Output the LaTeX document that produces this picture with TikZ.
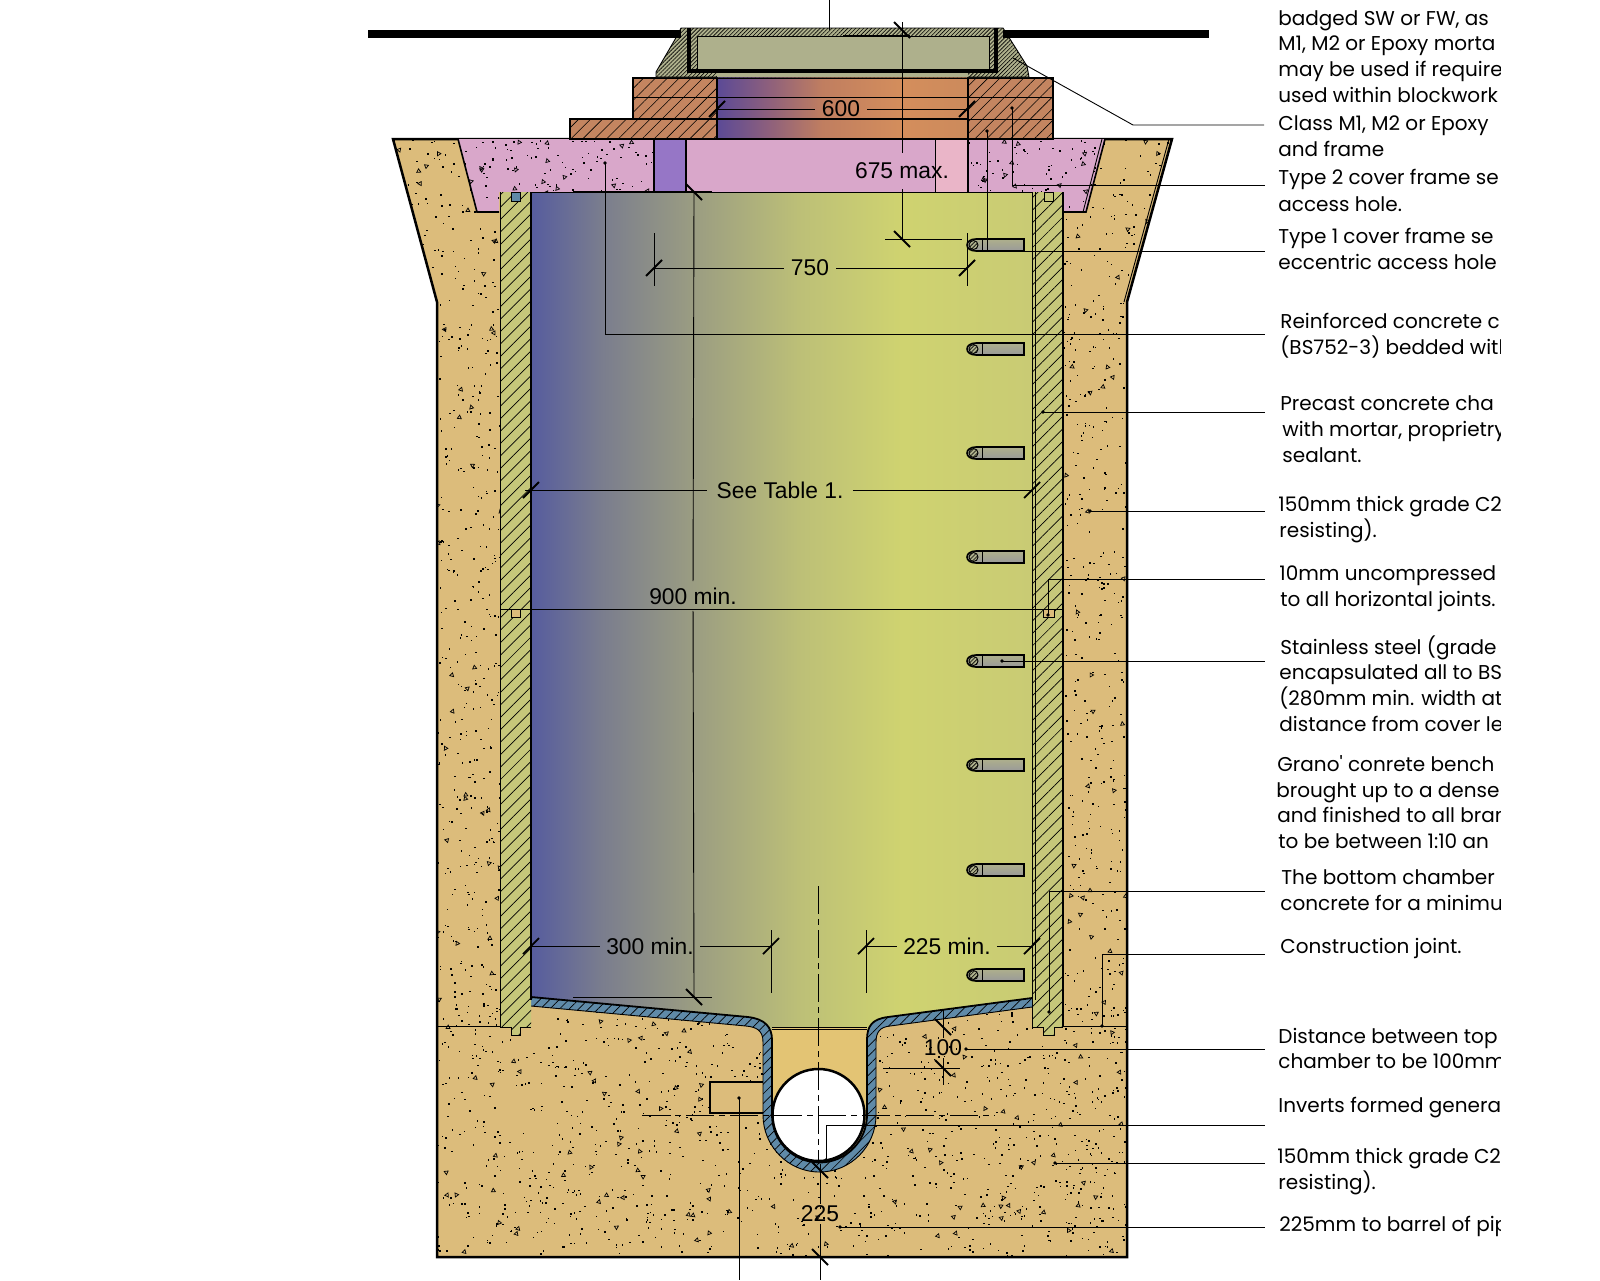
\documentclass[tikz,border=0pt]{standalone}
\usepackage{fontspec}
\setmainfont{Liberation Sans}
\newfontfamily\notefont{Poppins}
\usetikzlibrary{patterns.meta}

\definecolor{soilfill}{HTML}{DCBC7B}
\definecolor{pinkfill}{HTML}{D9A7CA}
\definecolor{pinklight}{HTML}{EAB5C8}
\definecolor{purplefill}{HTML}{9676C6}
\definecolor{brickfill}{HTML}{C48560}
\definecolor{wallfill}{HTML}{C6C77A}
\definecolor{framefill}{HTML}{AEB08C}
\definecolor{liningfill}{HTML}{5F8AA8}
\definecolor{benchfill}{HTML}{E3C474}
\definecolor{cha}{HTML}{565C9E}
\definecolor{chb}{HTML}{7A7D8E}
\definecolor{chc}{HTML}{9A9C82}
\definecolor{chd}{HTML}{BDC077}
\definecolor{che}{HTML}{CFD370}
\definecolor{chf}{HTML}{C9CB74}
\definecolor{ota}{HTML}{5B4A96}
\definecolor{otb}{HTML}{8C5F7D}
\definecolor{otc}{HTML}{C07E60}
\definecolor{otd}{HTML}{D48E5C}
\definecolor{ote}{HTML}{CC8A5C}
\pgfdeclarehorizontalshading{chambershade}{100bp}{color(0bp)=(cha); color(25bp)=(cha); color(32bp)=(chb); color(41bp)=(chc); color(52bp)=(chd); color(62bp)=(che); color(75bp)=(chf); color(100bp)=(chf)}
\pgfdeclarehorizontalshading{openingshade}{100bp}{color(0bp)=(ota); color(25bp)=(ota); color(35bp)=(otb); color(46bp)=(otc); color(62bp)=(otd); color(75bp)=(ote); color(100bp)=(ote)}

\tikzset{
    wallhatch/.style={preaction={fill=wallfill},pattern={Lines[angle=45,distance=4.4pt,line width=.35pt]}},
    brickhatch/.style={preaction={fill=brickfill},pattern={Lines[angle=45,distance=4.2pt,line width=.3pt]}},
    framehatch/.style={preaction={fill=framefill},pattern={Lines[angle=45,distance=1.4pt,line width=.3pt]}},
    liningfine/.style={preaction={fill=liningfill},pattern={Lines[angle=45,distance=3.4pt,line width=.35pt]}},
    heavy/.style={line width=1.25pt},
    fineline/.style={line width=.45pt},
    leaderline/.style={line width=.45pt},
    dimline/.style={line width=.45pt},
    tickmark/.style={line width=.9pt},
    centreline/.style={line width=.4pt,dash pattern=on 14pt off 2.5pt on 3pt off 2.5pt},
    dimtext/.style={font=\fontsize{11.4}{13}\selectfont,inner xsep=3.5pt,inner ysep=1pt},
    notetext/.style={font=\fontsize{10}{12}\notefont,anchor=base west,inner sep=0pt}
}

\begin{document}
\begin{tikzpicture}[x=0.5pt,y=-0.5pt]
    \newcommand{\specks}[5]{
        \foreach \k in {1,...,#5} {
            \pgfmathsetmacro{\sx}{#1+rnd*(#3-#1)}
            \pgfmathsetmacro{\sy}{#2+rnd*(#4-#2)}
            \fill [black] (\sx,\sy) rectangle ++(1.5,1.5);
        }
    }
    \newcommand{\trispecks}[5]{
        \foreach \k in {1,...,#5} {
            \pgfmathsetmacro{\sx}{#1+rnd*(#3-#1)}
            \pgfmathsetmacro{\sy}{#2+rnd*(#4-#2)}
            \pgfmathsetmacro{\sa}{rnd*360}
            \draw [line width=.35pt] (\sx,\sy) -- ++(\sa:4) -- ++(\sa+120:4) -- cycle;
        }
    }
    \newcommand{\tickup}[2]{\draw [tickmark] (#1-8,#2+8) -- (#1+8,#2-8);}
    \newcommand{\tickdown}[2]{\draw [tickmark] (#1-8,#2-8) -- (#1+8,#2+8);}

    \useasboundingbox (0,0) rectangle (1600,1280);
    \pgfmathsetseed{4711}

    \fill [soilfill] (393,139) -- (1172,139) -- (1127,302) -- (1127,1257) -- (437,1257) -- (437,302) -- cycle;
    \begin{scope}
        \clip (393,139) -- (1172,139) -- (1127,302) -- (1127,1257) -- (437,1257) -- (437,302) -- cycle;
        \specks{393}{139}{500}{1030}{640}
        \trispecks{393}{139}{500}{1030}{50}
        \specks{1063}{139}{1172}{1030}{640}
        \trispecks{1063}{139}{1172}{1030}{50}
        \specks{437}{1000}{1127}{1257}{1250}
        \trispecks{437}{1000}{1127}{1257}{110}
    \end{scope}
    \draw [heavy] (570,139) -- (393,139) -- (437,302) -- (437,1257) -- (1127,1257) -- (1127,302) -- (1172,139) -- (1053,139);
    \draw [fineline] (1169,139) -- (1124,302);
    \draw [fineline] (437,1026) -- (500,1026);
    \draw [fineline] (1063,1026) -- (1127,1026);

    \fill [pinkfill] (458,139) -- (654,139) -- (654,192) -- (499,192) -- (499,212) -- (477,212) -- cycle;
    \fill [pinkfill] (968,139) -- (1105,139) -- (1086,212) -- (1063,212) -- (1063,192) -- (968,192) -- cycle;
    \begin{scope}
        \clip (458,139) -- (654,139) -- (654,192) -- (499,192) -- (499,212) -- (477,212) -- cycle;
        \specks{458}{139}{654}{212}{110}
        \trispecks{458}{139}{654}{212}{22}
    \end{scope}
    \begin{scope}
        \clip (968,139) -- (1105,139) -- (1086,212) -- (1063,212) -- (1063,192) -- (968,192) -- cycle;
        \specks{968}{139}{1105}{212}{80}
        \trispecks{968}{139}{1105}{212}{16}
    \end{scope}
    \draw [line width=.8pt] (458,139) -- (477,212) -- (499,212);
    \draw [line width=.8pt] (1105,139) -- (1086,212) -- (1063,212);
    \draw [fineline] (1102,139) -- (1083,212);
    \filldraw [fill=purplefill,heavy] (654,139) rectangle (686,192);
    \fill [pinkfill] (686,139) rectangle (935,192);
    \fill [pinklight] (935,139) rectangle (968,192);
    \draw [fineline] (935,139) -- (935,192);
    \draw [heavy] (968,139) -- (968,192);
    \draw [fineline] (686,139) -- (686,192);

    \shade [shading=openingshade] (717,77) rectangle (968,139);
    \filldraw [brickhatch,heavy] (633,78) rectangle (717,119);
    \filldraw [brickhatch,heavy] (570,119) rectangle (717,139);
    \filldraw [brickhatch,heavy] (968,78) rectangle (1053,139);
    \draw [fineline] (633,97) -- (1053,97);
    \draw [heavy] (633,119) -- (968,119);
    \draw [fineline] (968,119) -- (1053,119);
    \draw [heavy] (570,139) -- (1053,139);
    \draw [fineline] (717,78) -- (968,78);

    \shade [shading=chambershade] (531,192) -- (1032,192) -- (1032,1000) -- (885,1019) -- (867,1030) -- (772,1030) -- (750,1019) -- (531,999) -- cycle;
    \draw [heavy] (573,192) -- (712,192);
    \draw [fineline] (500,192) -- (1063,192);

    \fill [benchfill] (772,1027) rectangle (867,1120);
    \draw [fineline] (772,1027) -- (867,1027);
    \draw [fineline] (772,1029) -- (867,1029);

    \filldraw [fill=soilfill,line width=.8pt] (710,1082) rectangle (772,1113);

    \filldraw [fill=white,heavy] (818.5,1115) circle [radius=46];
    \fill [liningfill] (531,997) -- (748,1017) .. controls (765,1019) and (772,1027) .. (772,1040) -- (772,1115) .. controls (772,1141) and (793,1162.5) .. (819.5,1162.5) .. controls (846,1162.5) and (867,1141) .. (867,1115) -- (867,1040) .. controls (867,1026) and (872,1019) .. (888,1017) -- (1032,998) -- (1032,1007) -- (890,1026) .. controls (880,1027) and (876,1032) .. (876,1042) -- (876,1115) .. controls (876,1146) and (851,1172) .. (819.5,1172) .. controls (788,1172) and (763,1146) .. (763,1115) -- (763,1042) .. controls (763,1030) and (756,1027) .. (746,1026) -- (531,1006) -- cycle;
    \fill [liningfine] (531,997) -- (748,1017) .. controls (765,1019) and (772,1027) .. (772,1040) -- (772,1115) .. controls (772,1141) and (793,1162.5) .. (819.5,1162.5) .. controls (846,1162.5) and (867,1141) .. (867,1115) -- (867,1040) .. controls (867,1026) and (872,1019) .. (888,1017) -- (1032,998) -- (1032,1007) -- (890,1026) .. controls (880,1027) and (876,1032) .. (876,1042) -- (876,1115) .. controls (876,1146) and (851,1172) .. (819.5,1172) .. controls (788,1172) and (763,1146) .. (763,1115) -- (763,1042) .. controls (763,1030) and (756,1027) .. (746,1026) -- (531,1006) -- cycle;
    \draw [line width=.9pt] (531,997) -- (748,1017) .. controls (765,1019) and (772,1027) .. (772,1040) -- (772,1115) .. controls (772,1141) and (793,1162.5) .. (819.5,1162.5) .. controls (846,1162.5) and (867,1141) .. (867,1115) -- (867,1040) .. controls (867,1026) and (872,1019) .. (888,1017) -- (1032,998);
    \draw [fineline] (1032,1007) -- (890,1026) .. controls (880,1027) and (876,1032) .. (876,1042) -- (876,1115) .. controls (876,1146) and (851,1172) .. (819.5,1172) .. controls (788,1172) and (763,1146) .. (763,1115) -- (763,1042) .. controls (763,1030) and (756,1027) .. (746,1026) -- (531,1006);

    \filldraw [wallhatch,draw=none] (500,192) -- (531,192) -- (531,1027) -- (520,1027) -- (520,1035) -- (511,1035) -- (511,1027) -- (500,1027) -- cycle;
    \filldraw [wallhatch,draw=none] (1032,192) -- (1063,192) -- (1063,1027) -- (1054,1027) -- (1054,1035) -- (1043,1035) -- (1043,1027) -- (1032,1027) -- cycle;
    \draw [fineline] (500,192) -- (500,1027) -- (511,1027) -- (511,1035) -- (520,1035) -- (520,1027) -- (531,1027);
    \draw [heavy] (531,192) -- (531,1000);
    \draw [fineline] (1032,1000) -- (1032,1027) -- (1043,1027) -- (1043,1035) -- (1054,1035) -- (1054,1027) -- (1063,1027);
    \draw [fineline] (1032,192) -- (1032,1000);
    \draw [fineline] (1035,192) -- (1035,1000);
    \draw [heavy] (1063,192) -- (1063,1027);
    \filldraw [fill=liningfill,fineline] (511,192) rectangle (520,201);
    \filldraw [fill=wallfill,fineline] (1044,192) rectangle (1053,201);
    \filldraw [fill=soilfill,fineline] (511,609) rectangle (520,617);
    \filldraw [fill=soilfill,fineline] (1043,609) rectangle (1054,617);

    \filldraw [framehatch,draw=black,fineline] (681,28) -- (1003,28) -- (1027,66) -- (1029,77) -- (656,77) -- (656,72) -- (677,36) -- cycle;
    \fill [framefill] (717,72) rectangle (968,77);
    \filldraw [fill=framefill,line width=.5pt] (697,36) rectangle (989,70);
    \draw [line width=1.6pt] (689,28) -- (689,71) -- (996,71) -- (996,28);
    \draw [line width=4pt] (368,34) -- (681,34);
    \draw [line width=4pt] (1003,34) -- (1209,34);

    \foreach \y in {245,349,453,557,661,765,870,975} {
        \shade [top color=framefill,bottom color=black!40] (1024,\y-6) -- (976,\y-6) .. controls (970,\y-6) and (967,\y-3) .. (967,\y) .. controls (967,\y+3) and (970,\y+6) .. (976,\y+6) -- (1024,\y+6) -- cycle;
        \filldraw [framehatch,fineline] (973.5,\y) circle [radius=4.5];
        \draw [line width=.8pt] (1024,\y-6) -- (976,\y-6) .. controls (970,\y-6) and (967,\y-3) .. (967,\y) .. controls (967,\y+3) and (970,\y+6) .. (976,\y+6) -- (1024,\y+6) -- cycle;
        \draw [fineline] (982,\y-6) -- (982,\y+6);
    }

    % dimensions
    \draw [fineline] (500,609) -- (1063,609);
    \node [dimtext] (dimsix) at (841,109) {600};
    \coordinate (sixa) at (717,109);
    \coordinate (sixb) at (967,109);
    \draw [dimline] (sixa) -- (dimsix) -- (sixb);
    \tickup{717}{109}
    \tickup{967}{109}

    \node [dimtext,inner ysep=5pt] (dimcover) at (902,171) {675 max.};
    \coordinate (covera) at (902,22);
    \coordinate (coverb) at (902,239);
    \draw [dimline] (covera) -- (dimcover) -- (coverb);
    \draw [dimline] (843,35) -- (910,35);
    \draw [dimline] (885,239) -- (962,239);
    \tickdown{902}{30}
    \tickdown{902}{239}

    \node [dimtext] (dimaccess) at (810,268) {750};
    \coordinate (accessa) at (654,268);
    \coordinate (accessb) at (967,268);
    \draw [dimline] (accessa) -- (dimaccess) -- (accessb);
    \draw [dimline] (654,233) -- (654,286);
    \draw [dimline] (967,233) -- (967,286);
    \tickup{654}{268}
    \tickup{967}{268}

    \node [dimtext,inner xsep=4.5pt] (dimtable) at (780,490) {See Table 1.};
    \coordinate (tablea) at (525,490);
    \coordinate (tableb) at (1032,490);
    \draw [dimline] (tablea) -- (dimtable) -- (tableb);
    \tickup{531}{490}
    \tickup{1032}{490}

    \node [dimtext,inner ysep=3pt] (dimheight) at (693,596) {900 min.};
    \coordinate (heighta) at (694,192);
    \coordinate (heightb) at (694,997);
    \draw [dimline] (heighta) -- (dimheight) -- (heightb);
    \draw [dimline] (573,997) -- (712,997);
    \tickdown{694}{192}
    \tickdown{694}{997}

    \node [dimtext,inner xsep=3pt] (dimbenchl) at (650,946) {300 min.};
    \coordinate (benchla) at (531,946);
    \coordinate (benchlb) at (771,946);
    \draw [dimline] (benchla) -- (dimbenchl) -- (benchlb);
    \draw [dimline] (771,930) -- (771,993);
    \tickup{531}{946}
    \tickup{771}{946}

    \node [dimtext,inner xsep=3pt] (dimbenchr) at (947,946) {225 min.};
    \coordinate (benchra) at (866,946);
    \coordinate (benchrb) at (1032,946);
    \draw [dimline] (benchra) -- (dimbenchr) -- (benchrb);
    \draw [dimline] (866,930) -- (866,993);
    \tickup{866}{946}
    \tickup{1032}{946}

    \node [dimtext,inner sep=1pt] (dimlining) at (943,1048) {100};
    \coordinate (lininga) at (943,1010);
    \coordinate (liningb) at (943,1085);
    \draw [dimline] (lininga) -- (dimlining) -- (liningb);
    \draw [dimline] (883,1068) -- (960,1068);
    \tickdown{943}{1027}
    \tickdown{943}{1068}

    \node [dimtext,inner sep=1pt] (dimbarrel) at (820,1214) {225};
    \coordinate (barrela) at (820,1164);
    \coordinate (barrelb) at (820,1258);
    \draw [dimline] (barrela) -- (dimbarrel) -- (barrelb);
    \tickdown{820}{1170}
    \tickdown{820}{1257}

    \draw [centreline] (818,886) -- (818,1164);
    \draw [centreline] (820,1258) -- (820,1280);
    \draw [centreline] (642,1115) -- (995,1115);

    % leaders
    \draw [leaderline] (829,0) -- (829,30);
    \coordinate (flangefrom) at (1013,58);
    \coordinate (flangeknee) at (1133,125);
    \coordinate (flangeto) at (1264,125);
    \draw [leaderline] (flangefrom) -- (flangeknee) -- (flangeto);
    \foreach \nm/\fx/\fy/\ty in {
        bricktop/1012/108/185,
        brickbase/987/131/251,
        slab/605/163/334,
        ring/1043/412/412,
        surround/1090/511/511,
        joint/1048/615/579,
        iron/1002/661/661,
        bench/1049/1012/891,
        construct/1102/1026/954,
        toplining/966/1049/1049,
        invert/826/1160/1125,
        base/1055/1163/1163,
        barrel/840/1227/1227} {
        \coordinate (from\nm) at (\fx,\fy);
        \coordinate (to\nm) at (1265,\ty);
        \fill (from\nm) circle [radius=1.8];
        \draw [leaderline] (from\nm) |- (to\nm);
    }
    \coordinate (boxfrom) at (739,1098);
    \coordinate (boxto) at (739,1280);
    \fill (boxfrom) circle [radius=1.8];
    \draw [leaderline] (boxfrom) -- (boxto);

    % notes on the right, cut off at the sheet edge
    \begin{scope}
        \clip (1200,0) rectangle (1500,1280);
        \foreach \tx/\ty/\txt [count=\i] in {
            1278/25/{badged SW or FW, as},
            1278/50/{M1, M2 or Epoxy morta},
            1278/76/{may be used if require},
            1278/102/{used within blockwork},
            1278/130/{Class M1, M2 or Epoxy},
            1278/156/{and frame},
            1278/184/{Type 2 cover frame se},
            1278/211/{access hole.},
            1278/243/{Type 1 cover frame se},
            1278/269/{eccentric access hole},
            1280/328/{Reinforced concrete c},
            1280/354/{(BS752-3) bedded with},
            1280/410/{Precast concrete cha},
            1282/436/{with mortar, proprietry},
            1282/462/{sealant.},
            1278/511/{150mm thick grade C2},
            1279/537/{resisting).},
            1279/580/{10mm uncompressed},
            1280/606/{to all horizontal joints.},
            1280/654/{Stainless steel (grade 3},
            1279/679/{encapsulated all to BS},
            1279/705/{(280mm min. width at},
            1279/731/{distance from cover le},
            1277/771/{Grano' conrete bench},
            1276/797/{brought up to a dense},
            1277/822/{and finished to all bran},
            1278/848/{to be between 1:10 an},
            1281/884/{The bottom  chamber},
            1280/910/{concrete for a minimu},
            1280/953/{Construction joint.},
            1278/1043/{Distance between top},
            1278/1068/{chamber to be 100mm},
            1278/1112/{Inverts formed genera},
            1277/1163/{150mm thick grade C2},
            1278/1189/{resisting).},
            1279/1231/{225mm to barrel of pip}} {
            \node [notetext] (note\i) at (\tx,\ty) {\txt};
        }
    \end{scope}
\end{tikzpicture}
\end{document}
